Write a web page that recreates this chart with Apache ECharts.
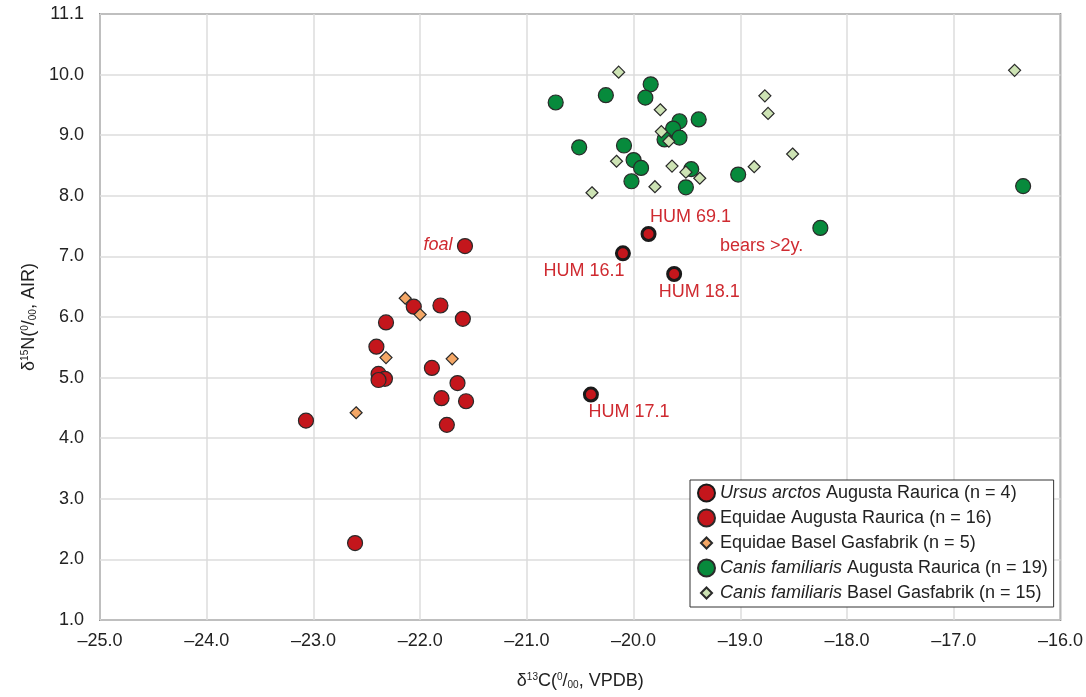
<!DOCTYPE html>
<html>
<head>
<meta charset="utf-8">
<title>δ13C vs δ15N</title>
<script src="https://cdn.jsdelivr.net/npm/echarts@6/dist/echarts.min.js"></script>
<style>
  html, body { margin: 0; padding: 0; background: #fff; }
  #chart { width: 1086px; height: 697px; }
</style>
</head>
<body>
<div id="chart"></div>
<script>
// Ursus arctos, Augusta Raurica
const ursusIds = ['HUM 16.1', 'HUM 69.1', 'HUM 18.1', 'HUM 17.1']
const ursusX = [-20.10, -19.86, -19.62, -20.40]
const ursusY = [7.05, 7.37, 6.71, 4.72]

// Equidae, Augusta Raurica (the 15th one is the foal)
const equiX = [-22.06, -21.81, -21.60, -22.32, -22.41, -21.89, -22.39, -22.33, -22.39, -21.65, -21.80, -21.57, -23.07, -21.75, -21.58, -22.61]
const equiY = [6.17, 6.19, 5.97, 5.91, 5.51, 5.16, 5.06, 4.98, 4.96, 4.91, 4.66, 4.61, 4.29, 4.22, 7.17, 2.27]
const equiNames = equiX.map((v, i) => i === 14 ? 'foal' : '')

// Equidae, Basel Gasfabrik
const equiBaselX = [-22.14, -22.00, -22.32, -21.70, -22.60]
const equiBaselY = [6.31, 6.04, 5.33, 5.31, 4.42]

// Canis familiaris, Augusta Raurica
const canisX = [-20.73, -20.26, -19.84, -19.89, -19.57, -19.63, -19.39, -19.71, -19.57, -20.51, -20.09, -20.00, -19.93, -20.02, -19.46, -19.51, -19.02, -18.25, -16.35]
const canisY = [9.54, 9.66, 9.84, 9.62, 9.23, 9.11, 9.26, 8.93, 8.96, 8.80, 8.83, 8.59, 8.46, 8.24, 8.44, 8.14, 8.35, 7.47, 8.16]

// Canis familiaris, Basel Gasfabrik
const canisBaselX = [-20.14, -19.75, -19.74, -19.67, -18.77, -18.74, -18.51, -20.16, -19.64, -19.51, -19.38, -18.87, -19.80, -20.39, -16.43]
const canisBaselY = [10.04, 9.42, 9.06, 8.90, 9.65, 9.36, 8.69, 8.57, 8.49, 8.39, 8.29, 8.48, 8.15, 8.05, 10.07]

// free note next to the bears
const bearNote = { text: 'bears >2y.', x: -18.80, y: 7.17 }

const seriesNames = [
  'Ursus arctos Augusta Raurica (n = 4)',
  'Equidae Augusta Raurica (n = 16)',
  'Equidae Basel Gasfabrik (n = 5)',
  'Canis familiaris Augusta Raurica (n = 19)',
  'Canis familiaris Basel Gasfabrik (n = 15)'
]

const FONT = '"Liberation Sans", Arial, Helvetica, sans-serif'
const TXT = '#222'
const RED = '#c4161c'
const NOTE = '#cf2a30'
const DIAMOND = 'path://M0,0M20,20M10,3.5L16.5,10L10,16.5L3.5,10Z'

// where each annotation sits relative to its point (px)
const labelOffset = {
  'HUM 16.1': [-39, 18],
  'HUM 69.1': [42, -17],
  'HUM 18.1': [25, 18],
  'HUM 17.1': [38, 17],
  'foal': [-27, -1]
}

function pts (xs, ys, names) {
  return xs.map((x, i) => {
    let name = names ? names[i] : ''
    let item = { value: [x, ys[i]], name: name }
    if (name && labelOffset[name]) {
      item.label = {
        show: true,
        position: 'inside',
        offset: labelOffset[name],
        formatter: name,
        color: NOTE,
        fontSize: 18,
        fontFamily: FONT,
        fontStyle: name === 'foal' ? 'italic' : 'normal'
      }
    }
    return item
  })
}

const fmt = v => (v === 11 ? '11.1' : v.toFixed(1)).replace('-', '–')

let chart = echarts.init(document.getElementById('chart'))
chart.setOption({
  animation: false,
  textStyle: { fontFamily: FONT },
  grid: {
    left: 100,
    right: 24,
    top: 14,
    bottom: 77,
    show: true,
    borderColor: '#3a3a3a',
    borderWidth: 1.5
  },
  legend: {
    orient: 'vertical',
    left: 690,
    top: 480,
    padding: [3, 6, 4, 7],
    itemWidth: 17,
    itemHeight: 17,
    itemGap: 5,
    borderColor: '#333',
    borderWidth: 1,
    backgroundColor: '#fff',
    textStyle: {
      fontSize: 18,
      lineHeight: 20,
      color: TXT,
      fontFamily: FONT,
      rich: {
        it: { fontStyle: 'italic', fontSize: 18, color: TXT, fontFamily: FONT }
      }
    },
    formatter: name => {
      let m = name.match(/^(Ursus arctos|Canis familiaris)(.*)$/)
      return m ? '{it|' + m[1] + '}' + m[2] : name
    },
    data: [
      { name: seriesNames[0], icon: 'circle' },
      { name: seriesNames[1], icon: 'circle' },
      { name: seriesNames[2], icon: DIAMOND },
      { name: seriesNames[3], icon: 'circle' },
      { name: seriesNames[4], icon: DIAMOND }
    ]
  },
  xAxis: {
    type: 'value',
    min: -25,
    max: -16,
    interval: 1,
    name: 'δ{sup|13}C({sup|0}/{sub|00}, VPDB)',
    nameLocation: 'middle',
    nameGap: 52,
    nameTextStyle: {
      fontSize: 18,
      color: TXT,
      fontFamily: FONT,
      rich: {
        sup: { fontSize: 10, verticalAlign: 'top', color: TXT, fontFamily: FONT },
        sub: { fontSize: 10, verticalAlign: 'bottom', color: TXT, fontFamily: FONT }
      }
    },
    axisLine: { show: false },
    axisTick: { show: false },
    axisLabel: {
      fontSize: 18,
      color: TXT,
      margin: 12,
      formatter: fmt,
      showMinLabel: true,
      showMaxLabel: true
    },
    splitLine: { lineStyle: { color: '#dcdcdc', width: 1.5 } }
  },
  yAxis: {
    type: 'value',
    min: 1,
    max: 11,
    interval: 1,
    name: 'δ{sup|15}N({sup|0}/{sub|00}, AIR)',
    nameLocation: 'middle',
    nameGap: 60,
    nameTextStyle: {
      fontSize: 18,
      color: TXT,
      fontFamily: FONT,
      rich: {
        sup: { fontSize: 10, verticalAlign: 'top', color: TXT, fontFamily: FONT },
        sub: { fontSize: 10, verticalAlign: 'bottom', color: TXT, fontFamily: FONT }
      }
    },
    axisLine: { show: false },
    axisTick: { show: false },
    axisLabel: {
      fontSize: 18,
      color: TXT,
      margin: 16,
      formatter: fmt,
      showMinLabel: true,
      showMaxLabel: true
    },
    splitLine: { lineStyle: { color: '#dcdcdc', width: 1.5 } }
  },
  series: [
    {
      name: seriesNames[0],
      type: 'scatter',
      symbol: 'circle',
      symbolSize: 13,
      z: 3,
      itemStyle: { color: RED, borderColor: '#1a1a1a', borderWidth: 3, opacity: 1 },
      data: pts(ursusX, ursusY, ursusIds),
      markPoint: {
        symbol: 'circle',
        symbolSize: 1,
        itemStyle: { color: 'rgba(0,0,0,0)', borderWidth: 0 },
        label: { show: true, position: 'inside', color: NOTE, fontSize: 18, fontFamily: FONT, formatter: bearNote.text },
        data: [{ coord: [bearNote.x, bearNote.y] }]
      }
    },
    {
      name: seriesNames[1],
      type: 'scatter',
      symbol: 'circle',
      symbolSize: 15,
      z: 2,
      itemStyle: { color: RED, borderColor: '#2a2a2a', borderWidth: 1.2, opacity: 1 },
      data: pts(equiX, equiY, equiNames)
    },
    {
      name: seriesNames[2],
      type: 'scatter',
      symbol: 'diamond',
      symbolSize: 12,
      z: 4,
      itemStyle: { color: '#f4a766', borderColor: '#2a2a2a', borderWidth: 1.2, opacity: 1 },
      data: pts(equiBaselX, equiBaselY)
    },
    {
      name: seriesNames[3],
      type: 'scatter',
      symbol: 'circle',
      symbolSize: 15,
      z: 2,
      itemStyle: { color: '#078a3c', borderColor: '#2a2a2a', borderWidth: 1.2, opacity: 1 },
      data: pts(canisX, canisY)
    },
    {
      name: seriesNames[4],
      type: 'scatter',
      symbol: 'diamond',
      symbolSize: 12,
      z: 4,
      itemStyle: { color: '#cde3b4', borderColor: '#2a2a2a', borderWidth: 1.2, opacity: 1 },
      data: pts(canisBaselX, canisBaselY)
    }
  ]
})
</script>
</body>
</html>
